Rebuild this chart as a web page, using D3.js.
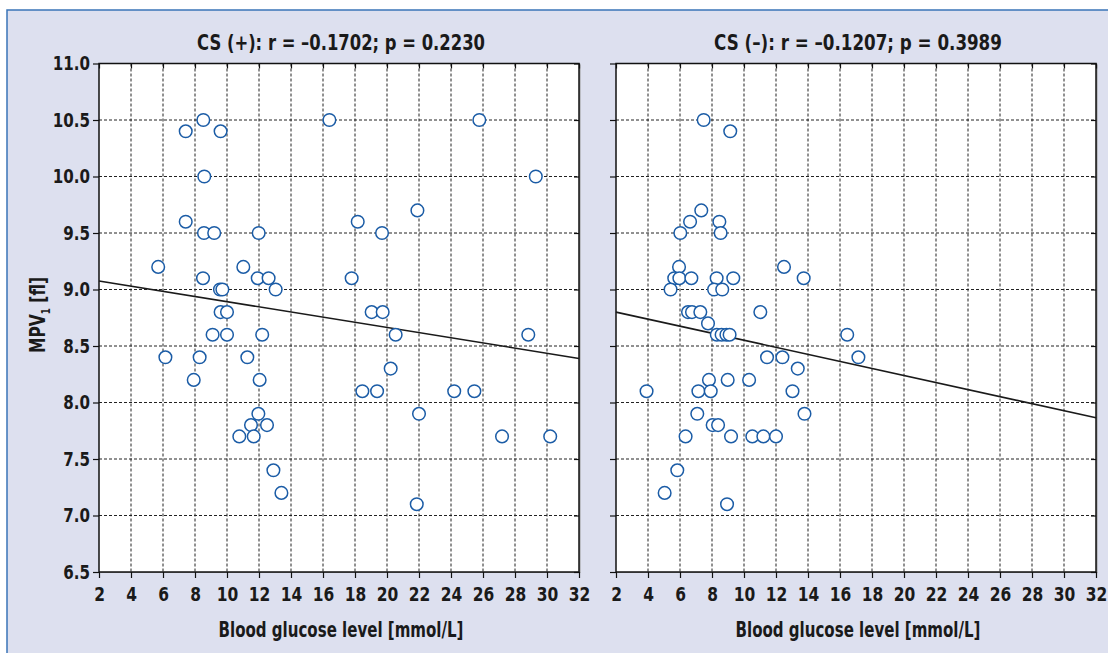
<!DOCTYPE html>
<html>
<head>
<meta charset="utf-8">
<script src="https://cdn.jsdelivr.net/npm/d3@7"></script>
<style>
  body { margin: 0; background: #fff; }
  text { font-family: "Liberation Sans Narrow", "DejaVu Sans Condensed", "Arial Narrow", sans-serif; font-weight: bold; fill: #1a1a1a; }
</style>
</head>
<body>
<div id="chart"></div>
<script>
// data
var leftGlucose = [5.7, 6.15, 7.42, 7.42, 7.92, 8.29, 8.52, 8.58, 8.56, 9.2, 8.5, 9.6, 9.56, 9.71, 9.6, 10.0,
  9.1, 10.0, 11.02, 11.98, 11.92, 12.6, 13.04, 12.2, 11.27, 12.04, 11.96, 11.5, 12.5, 10.77, 11.67, 12.9,
  13.4, 16.4, 17.79, 18.17, 19.69, 19.04, 19.73, 20.54, 20.23, 18.46, 19.38, 21.9, 22.0, 21.86, 24.2,
  25.46, 25.77, 27.19, 28.83, 29.3, 30.2];
var leftMPV = [9.2, 8.4, 10.4, 9.6, 8.2, 8.4, 10.5, 10.0, 9.5, 9.5, 9.1, 10.4, 9.0, 9.0, 8.8, 8.8,
  8.6, 8.6, 9.2, 9.5, 9.1, 9.1, 9.0, 8.6, 8.4, 8.2, 7.9, 7.8, 7.8, 7.7, 7.7, 7.4,
  7.2, 10.5, 9.1, 9.6, 9.5, 8.8, 8.8, 8.6, 8.3, 8.1, 8.1, 9.7, 7.9, 7.1, 8.1,
  8.1, 10.5, 7.7, 8.6, 10.0, 7.7];

var rightGlucose = [7.48, 9.14, 7.33, 6.63, 8.46, 6.02, 8.54, 5.94, 12.5, 5.64, 5.96, 6.71, 8.29, 9.33,
  13.73, 5.41, 8.13, 8.64, 6.5, 6.75, 7.27, 11.02, 7.75, 8.3, 8.6, 8.9, 9.1, 16.45, 17.15, 11.44, 12.4,
  13.36, 7.81, 8.98, 10.32, 3.91, 7.15, 7.92, 13.03, 7.08, 13.78, 8.04, 8.38, 6.35, 9.19, 10.52, 11.21,
  12.0, 5.83, 5.04, 8.94];
var rightMPV = [10.5, 10.4, 9.7, 9.6, 9.6, 9.5, 9.5, 9.2, 9.2, 9.1, 9.1, 9.1, 9.1, 9.1,
  9.1, 9.0, 9.0, 9.0, 8.8, 8.8, 8.8, 8.8, 8.7, 8.6, 8.6, 8.6, 8.6, 8.6, 8.4, 8.4, 8.4,
  8.3, 8.2, 8.2, 8.2, 8.1, 8.1, 8.1, 8.1, 7.9, 7.9, 7.8, 7.8, 7.7, 7.7, 7.7, 7.7,
  7.7, 7.4, 7.2, 7.1];

// fitted line: MPV at x = 2 and x = 32
var leftFit = [9.075, 8.39];
var rightFit = [8.80, 7.865];

var titles = ["CS (+): r = \u20130.1702; p = 0.2230", "CS (\u2013): r = \u20130.1207; p = 0.3989"];
var xTicks = [2, 4, 6, 8, 10, 12, 14, 16, 18, 20, 22, 24, 26, 28, 30, 32];
var yTicks = [6.5, 7.0, 7.5, 8.0, 8.5, 9.0, 9.5, 10.0, 10.5, 11.0];
var xTitle = "Blood glucose level [mmol/L]";

// squeeze text horizontally around its anchor (the condensed face isn't available)
function squeeze(sel, k) {
  sel.each(function() {
    var ax = +this.getAttribute("x") || 0;
    var ay = +this.getAttribute("y") || 0;
    d3.select(this).attr("transform",
      "translate(" + ax + "," + ay + ") scale(" + k + ",1) translate(" + (-ax) + "," + (-ay) + ")");
  });
}
function fitTo(sel, target) {
  squeeze(sel, target / sel.node().getComputedTextLength());
}

// layout
var W = 1108, H = 653;
var svg = d3.select("#chart").append("svg")
    .attr("width", W)
    .attr("height", H);

svg.append("rect")
  .attr("x", 7).attr("y", 10)
  .attr("width", W).attr("height", H)
  .attr("fill", "#dde0ef")
  .attr("stroke", "#3a74b8")
  .attr("stroke-width", 1.5);

var y = d3.scaleLinear().domain([6.5, 11]).range([572, 63.5]);

var panels = [
  {left: 99, right: 579, gx: leftGlucose, gy: leftMPV, fit: leftFit, title: titles[0], yLabels: true},
  {left: 616, right: 1096, gx: rightGlucose, gy: rightMPV, fit: rightFit, title: titles[1], yLabels: false}
];

panels.forEach(function(p) {
  var x = d3.scaleLinear().domain([2, 32]).range([p.left, p.right]);
  var g = svg.append("g");

  // shadow + white plot area
  g.append("rect")
    .attr("x", p.left + 1.5).attr("y", 64.5)
    .attr("width", p.right - p.left).attr("height", 572 - 63.5)
    .attr("fill", "#9a9a9a");
  g.append("rect")
    .attr("x", p.left).attr("y", 63.5)
    .attr("width", p.right - p.left).attr("height", 572 - 63.5)
    .attr("fill", "#fff");

  // dashed grid
  g.selectAll(".gx").data(xTicks.slice(1, -1)).enter().append("line")
    .attr("x1", d => x(d)).attr("x2", d => x(d))
    .attr("y1", 63.5).attr("y2", 572)
    .attr("stroke", "#222").attr("stroke-width", 1).attr("stroke-dasharray", "3,2");
  g.selectAll(".gy").data(yTicks.slice(1, -1)).enter().append("line")
    .attr("x1", p.left).attr("x2", p.right)
    .attr("y1", d => y(d)).attr("y2", d => y(d))
    .attr("stroke", "#222").attr("stroke-width", 1).attr("stroke-dasharray", "3,2");

  // axes
  var ya = g.append("g")
    .attr("transform", "translate(" + p.left + ",0)")
    .call(d3.axisLeft(y).tickValues(yTicks).tickSize(6).tickPadding(3)
      .tickFormat(p.yLabels ? d3.format(".1f") : ""));
  var xa = g.append("g")
    .attr("transform", "translate(0,572)")
    .call(d3.axisBottom(x).tickValues(xTicks).tickSize(6).tickPadding(9));
  var ra = g.append("g")
    .attr("transform", "translate(" + p.right + ",0)")
    .call(d3.axisRight(y).tickValues(yTicks).tickSize(-5).tickFormat(""));
  var ta = g.append("g")
    .attr("transform", "translate(0,63.5)")
    .call(d3.axisTop(x).tickValues(xTicks).tickSize(-5).tickFormat(""));
  [ya, xa, ra, ta].forEach(function(a) {
    a.select(".domain").remove();
    a.selectAll(".tick line").attr("stroke", "#111").attr("stroke-width", 1.2);
    a.selectAll("text").attr("font-size", 20).attr("fill", "#1a1a1a")
      .attr("font-family", null);
  });
  squeeze(ya.selectAll("text"), 0.84);
  squeeze(xa.selectAll("text"), 0.86);

  // frame
  g.append("rect")
    .attr("x", p.left).attr("y", 63.5)
    .attr("width", p.right - p.left).attr("height", 572 - 63.5)
    .attr("fill", "none").attr("stroke", "#111").attr("stroke-width", 1.5);

  // regression line
  var line = d3.line().x(d => x(d[0])).y(d => y(d[1]));
  g.append("path")
    .attr("d", line([[2, p.fit[0]], [32, p.fit[1]]]))
    .attr("stroke", "#1a1a1a").attr("stroke-width", 1.6).attr("fill", "none");

  // points
  g.selectAll("circle").data(p.gx).enter().append("circle")
    .attr("cx", d => x(d))
    .attr("cy", (d, i) => y(p.gy[i]))
    .attr("r", 6.3)
    .attr("fill", "#fff")
    .attr("stroke", "#1b5ca6")
    .attr("stroke-width", 1.5);

  // titles
  var mid = (p.left + p.right) / 2 + 2;
  var t = g.append("text").attr("x", mid).attr("y", 50)
    .attr("text-anchor", "middle").attr("font-size", 21).text(p.title);
  fitTo(t, 288);
  var xt = g.append("text").attr("x", mid).attr("y", 637)
    .attr("text-anchor", "middle").attr("font-size", 21).text(xTitle);
  fitTo(xt, 245);
});

// y axis title
var yt = svg.append("text")
  .attr("text-anchor", "middle")
  .attr("font-size", 21);
yt.append("tspan").text("MPV");
yt.append("tspan").attr("font-size", 12).attr("dy", 5).text("1");
yt.append("tspan").attr("dy", -5).text(" [fl]");
var k = 76 / yt.node().getComputedTextLength();
yt.attr("transform", "translate(45,315) rotate(-90) scale(" + k + ",1)");
</script>
</body>
</html>
